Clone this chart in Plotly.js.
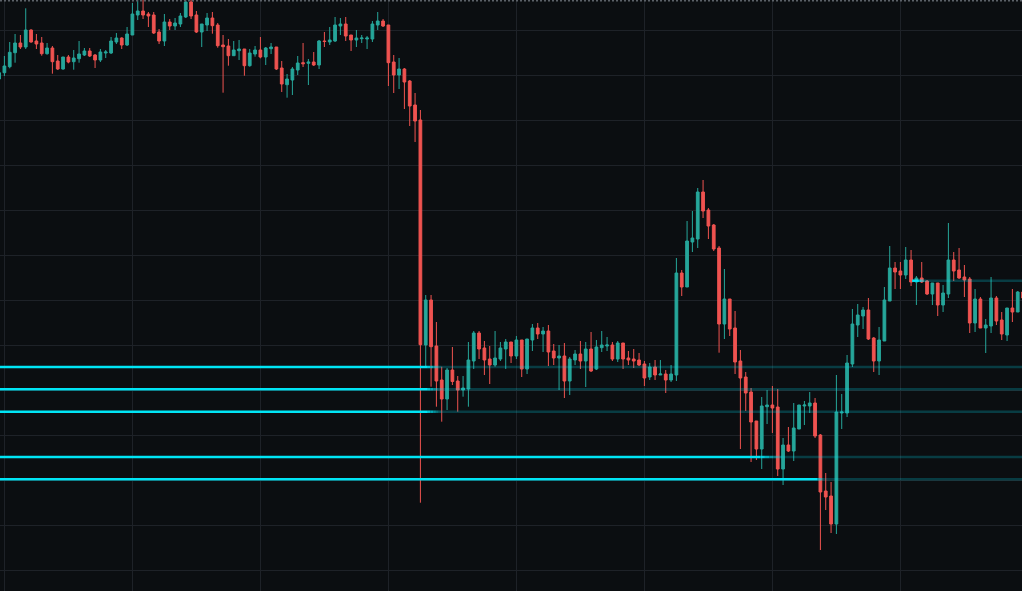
<!DOCTYPE html>
<html>
<head>
<meta charset="utf-8">
<script src="https://cdn.plot.ly/plotly-3.0.1.min.js"></script>
<style>
  html, body { margin: 0; padding: 0; background: #0b0e11; }
  #chart { width: 1022px; height: 591px; }
</style>
</head>
<body>
<div id="chart"></div>
<script>
// Candle data (bar index from -1 to 191), price in arbitrary units
const firstBar = -1;
const openPrices = [
  512, 518.3, 524.3, 538.3, 548, 544, 561, 550, 548, 537.3,
  543, 530, 522, 534, 529.3, 532.3, 536, 540, 536, 531,
  538, 538, 549, 553, 546, 556, 576, 580, 577, 576,
  559, 550, 569, 565, 567, 574, 589, 576, 559, 566,
  573, 566, 546, 545, 535.3, 540.3, 542, 525.3, 537, 541,
  534, 542.3, 544, 523, 506.3, 511, 521, 528.3, 527.7, 529,
  526, 550, 549, 550, 565, 567, 556, 551, 552.3, 552,
  552, 566, 570, 566, 529, 516, 522, 510, 486, 471,
  246, 291, 245, 211, 192, 221, 210, 201, 202, 230,
  258, 243, 232, 226, 232, 242, 249, 235, 251, 222,
  251, 263, 257, 260, 240, 233, 235, 210, 231, 237,
  230, 242, 222, 243.3, 245, 246, 232, 248, 233, 232,
  231, 227, 214, 224, 216, 217, 211, 216, 318, 304,
  349, 352, 399, 381, 366, 343, 267, 292, 263, 230,
  214, 199, 170, 142, 184.3, 186, 184, 122, 146, 140,
  162, 185, 185, 188, 156, 100, 95, 67, 178, 178,
  227, 266, 275, 281, 253, 230, 250, 290, 323, 320,
  316, 331, 309, 313, 310, 297, 308, 286, 297, 331,
  321, 314, 312, 268, 292, 263, 265, 293, 271, 256,
  283, 279, 299
];
const highPrices = [
  519, 535, 549, 557, 556, 582.7, 561.7, 557, 554, 548,
  545, 536, 534, 536, 541, 550, 543, 543, 537, 542,
  541, 554, 558, 553.7, 564, 588, 593, 593, 579, 579,
  562, 577, 572, 573, 578, 593, 593, 580, 567, 578,
  579, 568, 556, 552, 550, 551, 542, 542, 545, 554,
  544, 548, 544, 530, 517, 524, 535, 548, 532, 539,
  551, 559, 564, 574, 573, 574, 556, 561, 556, 555,
  570, 579, 572, 566, 536, 533, 523, 511, 498, 481,
  296, 296, 269, 224.3, 223, 244, 215, 215, 249, 260,
  260, 250, 245, 260, 249, 252, 249, 255, 251, 252,
  267, 268, 264, 266, 247, 246, 248, 234, 241, 250,
  249, 259, 251, 260, 254, 249, 250, 248, 240, 242,
  238, 230, 228, 231, 231, 221, 226, 333, 321, 370,
  380, 403, 411, 383, 367, 345, 322, 292, 280, 241,
  219, 203, 170, 194, 201, 205, 202, 153, 164, 188,
  186, 190, 199, 193, 157, 118, 109, 216, 197, 236,
  282, 287, 284, 293, 254, 264, 304, 345, 329, 329,
  344, 341, 315, 329, 311, 308, 308, 306, 368, 339,
  343, 326, 314, 302, 294, 272, 314, 295, 279, 283,
  302, 300, 300
];
const lowPrices = [
  511, 515, 522.7, 528.3, 542, 542, 548.3, 542, 535.3, 536.3,
  517.3, 521, 521.3, 527.7, 521.3, 528.3, 535, 534, 523, 529,
  533, 537, 547, 542, 545, 556, 571, 572, 564, 557,
  547, 545, 561, 561, 564, 573, 572, 558, 544, 560,
  557.3, 543.3, 498.3, 525.3, 535, 531, 515.3, 524.3, 534.3, 532.7,
  526, 537, 521, 499, 493.3, 496, 516, 524, 506, 525,
  522, 544, 546, 549, 556, 550, 540, 544, 548, 542,
  549, 561, 564, 505, 498, 502, 482, 465, 449, 88.3,
  224.3, 204.3, 184.3, 169.3, 181, 206, 179.3, 194.3, 184.3, 222,
  232, 216, 207, 224.3, 230, 222, 228, 232, 214, 217,
  240, 252, 239, 225, 226, 201, 193, 196, 226, 222,
  204, 219, 221, 239, 240, 230, 229, 222, 226, 223,
  225, 205, 211, 211, 216, 198, 209, 210, 295, 304,
  339, 343, 373, 352, 340, 238.3, 252, 255, 217, 142,
  180, 129, 131, 122, 167, 158, 115, 106, 139, 130,
  162, 166, 178, 153, 41, 81, 58, 57, 162, 174,
  224, 254, 262, 251, 219, 216, 250, 290, 302, 302,
  312, 305, 286, 308, 296, 286, 275, 279, 293, 310,
  312, 294, 258, 259, 263, 238, 258, 266, 251, 250,
  269, 279, 290
];
const closePrices = [
  518.3, 525, 538.7, 548, 544, 561, 549, 547, 537.3, 543,
  529.3, 522, 534, 529, 533, 537, 540, 535, 531, 539,
  539, 550, 553, 546, 557, 577, 580, 576, 575, 558,
  550, 569, 565, 568, 575, 589, 575, 559, 567, 573,
  565.3, 545.3, 544.3, 535.3, 541, 542, 525.3, 538, 541, 534,
  543, 544, 522, 507, 512, 522, 528, 527.3, 529, 526,
  550, 549.5, 551, 566, 567, 555, 551, 553, 553, 553,
  567, 570, 565, 528.3, 516, 522, 509, 485, 470, 246.3,
  291, 244.3, 210, 192, 221, 209.5, 201, 203, 231, 258,
  242, 231, 226, 233, 243, 249, 235, 251, 222, 252,
  263, 257, 260, 239, 233, 235, 210, 232, 237, 230,
  242, 220, 244, 246, 246, 232, 248, 232, 231, 230,
  226, 213, 224, 216, 217, 211, 217, 318, 304, 350,
  353, 399, 380, 365, 342, 267, 292, 262, 229, 213,
  198, 169, 142, 185, 186, 183, 122, 146, 140, 163,
  186, 186, 188, 155, 99, 94, 67, 179, 179, 228,
  267, 276, 281, 252, 230, 251, 291, 323, 319, 316,
  331, 309, 313, 309, 297, 308, 286, 298, 331, 320,
  313, 311, 268, 292, 263, 266, 293, 270, 257, 283,
  279, 299, 293
];

// Horizontal levels: price, bar where it starts, bar until which it stays active (bright)
const levelPrices = [224, 201.7, 179.3, 134, 111.7, 310.3];
const levelStartBar = [-2, -2, -2, -2, -2, 170.2];
const levelActiveUntilBar = [79.4, 79.4, 79.4, 141.8, 152.4, 171.3];

// ---- styles ----
const BG = '#0b0e11';
const GRID = '#1e2228';
const UP = '#26a69a';
const DOWN = '#ef5350';
const LEVEL_RGB = '0,229,245';
const LEVEL_DIM_ALPHA = 0.22;
const FADE_BARS = [2.5, 2.5, 2.5, 4, 1.2, 1.5];
const X_RANGE = [-0.825, 190.8];
const Y_RANGE = [0, 591];
const RIGHT_END = 193;

const xs = openPrices.map((_, k) => firstBar + k);

const trace = {
  type: 'candlestick',
  x: xs,
  open: openPrices,
  high: highPrices,
  low: lowPrices,
  close: closePrices,
  increasing: { line: { color: UP, width: 1 }, fillcolor: UP },
  decreasing: { line: { color: DOWN, width: 1 }, fillcolor: DOWN },
  whiskerwidth: 0,
  hoverinfo: 'skip',
  showlegend: false
};

const shapes = [];
levelPrices.forEach((p, k) => {
  const s = levelStartBar[k];
  const e = levelActiveUntilBar[k];
  const f = FADE_BARS[k];
  shapes.push({
    type: 'line', xref: 'x', yref: 'y', x0: s, x1: e, y0: p, y1: p,
    line: { color: `rgba(${LEVEL_RGB},1)`, width: 2.5 }, layer: 'above'
  });
  const steps = 5;
  for (let j = 0; j < steps; j++) {
    const a = 1 - (j + 1) / (steps + 1) * (1 - LEVEL_DIM_ALPHA);
    shapes.push({
      type: 'line', xref: 'x', yref: 'y',
      x0: e + f * j / steps, x1: e + f * (j + 1) / steps, y0: p, y1: p,
      line: { color: `rgba(${LEVEL_RGB},${a.toFixed(3)})`, width: 2.5 }, layer: 'above'
    });
  }
  shapes.push({
    type: 'line', xref: 'x', yref: 'y', x0: e + f, x1: RIGHT_END, y0: p, y1: p,
    line: { color: `rgba(${LEVEL_RGB},${LEVEL_DIM_ALPHA})`, width: 2.5 }, layer: 'above'
  });
});
// dotted top border
shapes.push({
  type: 'line', xref: 'paper', yref: 'paper', x0: 0, x1: 1,
  y0: 1 - 0.8 / 591, y1: 1 - 0.8 / 591,
  line: { color: '#5d6269', width: 1.5, dash: '2px,2px' }, layer: 'above'
});

const layout = {
  width: 1022,
  height: 591,
  margin: { l: 0, r: 0, t: 0, b: 0, pad: 0 },
  paper_bgcolor: BG,
  plot_bgcolor: BG,
  boxgap: 0.27,
  showlegend: false,
  xaxis: {
    range: X_RANGE,
    rangeslider: { visible: false },
    showgrid: true, gridcolor: GRID, gridwidth: 1,
    tick0: 0, dtick: 24,
    showticklabels: false, ticks: '', zeroline: false, showline: false,
    fixedrange: true
  },
  yaxis: {
    range: Y_RANGE,
    showgrid: true, gridcolor: GRID, gridwidth: 1,
    tick0: 21, dtick: 45,
    showticklabels: false, ticks: '', zeroline: false, showline: false,
    fixedrange: true
  },
  shapes: shapes
};

Plotly.newPlot('chart', [trace], layout, { staticPlot: true, displayModeBar: false });
</script>
</body>
</html>
